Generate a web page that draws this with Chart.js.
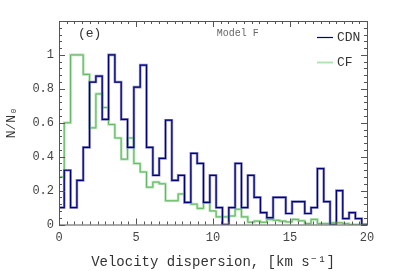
<!DOCTYPE html>
<html>
<head>
<meta charset="utf-8">
<script src="https://cdn.jsdelivr.net/npm/chart.js@4/dist/chart.umd.min.js"></script>
<style>
html, body { margin: 0; padding: 0; background: #fff; }
#wrap { width: 407px; height: 271px; }
</style>
</head>
<body>
<div id="wrap"><canvas id="c"></canvas></div>
<script>
// histogram bins, km/s (shared by both models)
const binStart = -0.071;
const binWidth = 0.411;

// normalised counts per bin
const cdnValues = [0.10, 0.32, 0.10, 0.26, 0.455, 0.84, 0.875, 0.62, 1.0, 0.84, 0.62, 0.455,
  0.81, 0.94, 0.455, 0.29, 0.39, 0.615, 0.26, 0.29, 0.13, 0.42, 0.36, 0.13,
  0.29, 0.10, 0, 0.10, 0.36, 0.10, 0.29, 0.16, 0.07, 0.04, 0.16, 0.16,
  0.065, 0.135, 0.135, 0.065, 0.10, 0.33, 0.135, 0, 0.20, 0.035, 0.07, 0.035, 0];

const cfValues = [0.28, 0.60, 1.0, 1.0, 0.885, 0.57, 0.77, 0.69, 0.59, 0.51, 0.385, 0.51,
  0.36, 0.31, 0.22, 0.25, 0.24, 0.14, 0.14, 0.18, 0.13, 0.12, 0.095, 0.13,
  0.08, 0.045, 0.045, 0.05, 0.09, 0.045, 0.013, 0.02, 0.013, 0.03, 0.025, 0.02,
  0.015, 0.03, 0.022, 0.005, 0.03, 0.005, 0.005, 0.01, 0.01, 0.005, 0, 0, 0];

const xTicks = [0, 5, 10, 15, 20];
const yTicks = [0, 0.2, 0.4, 0.6, 0.8, 1];

const FONT = '"Liberation Mono", "DejaVu Sans Mono", monospace';

// left edge of each bin + closing point; stepped:'before' holds each value to the next edge
function toSteps(vals) {
    let pts = vals.map((v, i) => ({ x: binStart + i * binWidth, y: v }));
    pts.push({ x: binStart + vals.length * binWidth, y: vals[vals.length - 1] });
    return pts;
}

// frame, inward ticks on every side, panel labels and legend
const framePlugin = {
    id: 'frame',
    afterDatasetsDraw(chart) {
        const { ctx, chartArea: a, scales } = chart;
        const xs = scales.x, ys = scales.y;
        ctx.save();
        ctx.strokeStyle = '#555';
        ctx.lineWidth = 1;
        ctx.strokeRect(a.left + 0.5, a.top + 0.5, a.right - a.left, a.bottom - a.top);

        ctx.beginPath();
        for (let i = 0; i <= 40; i++) {
            let px = Math.round(xs.getPixelForValue(i * 0.5)) + 0.5;
            let len = i % 10 === 0 ? 6 : 3;
            ctx.moveTo(px, a.bottom); ctx.lineTo(px, a.bottom - len);
            ctx.moveTo(px, a.top); ctx.lineTo(px, a.top + len);
        }
        for (let j = 0; j <= 30; j++) {
            let py = Math.round(ys.getPixelForValue(j * 0.04)) + 0.5;
            let len = j % 5 === 0 ? 6 : 3;
            ctx.moveTo(a.left, py); ctx.lineTo(a.left + len, py);
            ctx.moveTo(a.right, py); ctx.lineTo(a.right - len, py);
        }
        ctx.stroke();

        ctx.fillStyle = '#333';
        ctx.textBaseline = 'middle';
        ctx.font = '13px ' + FONT;
        ctx.textAlign = 'left';
        ctx.fillText('(e)', a.left + 19, a.top + 13);
        ctx.font = '10px ' + FONT;
        ctx.fillStyle = '#666';
        ctx.textAlign = 'center';
        ctx.fillText('Model F', xs.getPixelForValue(11.6), a.top + 12);

        // legend
        const items = [chart.data.datasets[0], chart.data.datasets[3]];
        ctx.font = '13px ' + FONT;
        ctx.textAlign = 'left';
        items.forEach((ds, k) => {
            let y = a.top + 16 + k * 25;
            ctx.strokeStyle = ds.borderColor;
            ctx.lineWidth = k === 0 ? 1.2 : 2;
            ctx.beginPath();
            ctx.moveTo(a.right - 50, y + 0.5); ctx.lineTo(a.right - 34, y + 0.5);
            ctx.stroke();
            ctx.fillStyle = '#333';
            ctx.fillText(ds.label, a.right - 30, y + 1);
        });
        ctx.restore();
    }
};

new Chart(document.getElementById('c'), {
    type: 'line',
    data: {
        datasets: [
            { label: 'CDN', data: toSteps(cdnValues), borderColor: '#00007a', borderWidth: 1.2, order: 0 },
            { label: 'CDN wide', data: toSteps(cdnValues), borderColor: 'rgba(120,120,190,0.85)', borderWidth: 2.6, order: 2 },
            { label: 'CF dark', data: toSteps(cfValues), borderColor: '#62b862', borderWidth: 1, order: 1 },
            { label: 'CF', data: toSteps(cfValues), borderColor: '#b4e2b4', borderWidth: 2.6, order: 3 }
        ].map(d => Object.assign(d, { stepped: 'before', pointRadius: 0, fill: false, tension: 0 }))
    },
    options: {
        responsive: true,
        maintainAspectRatio: false,
        animation: false,
        layout: { padding: { top: 21, right: 40, left: 0, bottom: 0 } },
        plugins: { legend: { display: false }, tooltip: { enabled: false } },
        scales: {
            x: {
                type: 'linear', min: 0, max: 20,
                afterBuildTicks: s => { s.ticks = xTicks.map(v => ({ value: v })); },
                ticks: { color: '#444', padding: 6, maxRotation: 0, font: { family: FONT, size: 12 } },
                grid: { display: false, drawTicks: false },
                border: { display: false },
                title: { display: true, text: 'Velocity dispersion, [km s\u207B\u00B9]', color: '#333',
                         font: { family: FONT, size: 14 }, padding: { top: 2, bottom: 0 } },
                afterFit: s => { s.height = 46.5; }
            },
            y: {
                min: 0, max: 1.2,
                afterBuildTicks: s => { s.ticks = yTicks.map(v => ({ value: v })); },
                ticks: { color: '#444', padding: 5, font: { family: FONT, size: 12 },
                         callback: v => String(Math.round(v * 10) / 10) },
                grid: { display: false, drawTicks: false },
                border: { display: false },
                title: { display: true, text: 'N/N\u2080', color: '#333',
                         font: { family: FONT, size: 13 }, padding: { top: 4, bottom: 2 } },
                afterFit: s => { s.width = 59; }
            }
        }
    },
    plugins: [framePlugin]
});
</script>
</body>
</html>
